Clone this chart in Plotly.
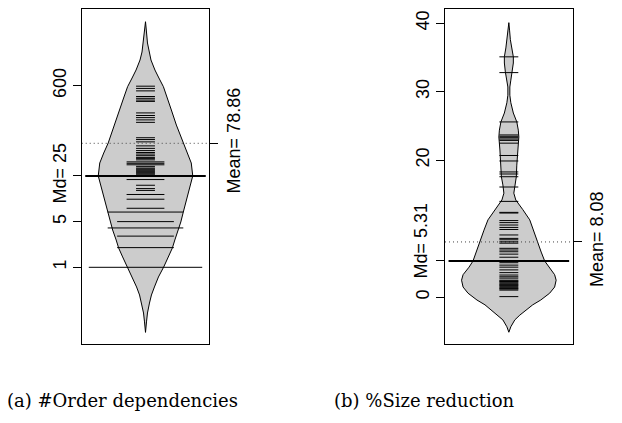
import plotly.graph_objects as go

# ---------------- (a) #Order dependencies (log y) ----------------
order_vals = [590, 545, 500, 410, 385, 362, 345, 230, 210, 195, 180, 165,
              96, 90, 83, 72, 66, 61, 57, 54, 51, 48, 46, 44, 41, 39, 37, 35,
              33, 32, 31, 30, 29, 28, 27, 26,
              22, 18, 16, 15, 13, 11, 8, 7, 5, 4, 3, 2, 1]
order_counts = [1, 1, 1, 1, 1, 1, 1, 1, 1, 1, 1, 1,
                1, 1, 1, 1, 1, 1, 1, 1, 1, 1, 1, 1, 2, 2, 2, 1,
                1, 1, 1, 1, 1, 1, 1, 1,
                2, 1, 1, 1, 2, 2, 2, 4, 3, 4, 3, 3, 6]
order_median = 25
order_mean = 78.86
order_ticks = [1, 5, 25, 600]
order_ticktext = ["1", "5", "Md= 25", "600"]
# bean outline: value -> relative density width
order_bean_y = [5715, 4266, 2700, 1966, 1483, 1042, 787, 579, 389, 255, 150,
                79.8, 56, 39.4, 25, 16.9, 10.7, 7.0, 4.93, 3.72, 2.62, 1.97,
                1.44, 1.01, 0.711, 0.5, 0.377, 0.284, 0.2, 0.146, 0.101]
order_bean_w = [0.0, 0.017, 0.042, 0.074, 0.116, 0.2, 0.284, 0.379, 0.463, 0.547, 0.653,
                0.789, 0.884, 0.968, 1.0, 0.937, 0.863, 0.8, 0.747, 0.695, 0.621, 0.568,
                0.484, 0.385, 0.274, 0.189, 0.126, 0.084, 0.042, 0.021, 0.0]

# ---------------- (b) %Size reduction (linear y) ----------------
size_vals = [35.1, 32.8, 25.6, 23.7, 23.5, 23.3, 23.1, 22.9, 22.5, 20.7, 19.9,
             18.3, 18.0, 17.6, 16.1, 14.0, 12.4, 12.3, 11.2, 10.9, 10.55, 10.2,
             9.9, 9.1, 8.6, 8.4, 8.1, 7.9, 7.15, 6.9, 6.65, 6.3, 5.85, 5.05,
             4.7, 4.4, 4.0, 3.6, 3.25, 3.0, 2.8, 2.5, 2.4, 2.3, 2.2, 2.05, 1.9,
             1.8, 1.7, 1.55, 1.4, 1.3, 1.2, 1.05, 0.1]
size_median = 5.31
size_mean = 8.08
size_ticks = [0, 20, 30, 40]
size_ticktext = ["0", "20", "30", "40"]
size_median_label = "Md= 5.31"
size_median_label_at = 8.3
size_bean_y = [40.09, 39.0, 37.6, 36.4, 35.1, 34.2, 32.9, 31.7, 30.7, 29.5, 28.4,
               26.9, 25.6, 24.4, 23.4, 21.5, 19.3, 17.6, 16.4, 15.2, 14.2, 12.8,
               11.3, 9.8, 8.1, 6.6, 5.3, 4.4, 3.3, 2.5, 1.5, 0.6, -0.4, -1.1,
               -1.9, -2.6, -3.3, -4.3, -5.1]
size_bean_w = [0.0, 0.015, 0.032, 0.063, 0.095, 0.095, 0.074, 0.042, 0.021, 0.021, 0.042,
               0.095, 0.168, 0.2, 0.211, 0.189, 0.168, 0.158, 0.126, 0.105, 0.147, 0.295,
               0.442, 0.526, 0.611, 0.684, 0.758, 0.842, 0.968, 1.0, 0.968, 0.863, 0.674, 0.505,
               0.358, 0.232, 0.126, 0.042, 0.0]

caption_a = "(a) #Order dependencies"
caption_b = "(b) %Size reduction"

XR = [0.46, 1.54]
CENTER = 1.0
MAXW = 0.4
LL = 0.08
AVG_HALF = 0.51

# page offset (browser body margin) compensation
OFF = 8
W, H = 622 - OFF, 423 - OFF


def px(xp):
    return (xp - OFF) / W


def py(yp):
    return (423 - yp) / H


fig = go.Figure()


def add_bean(xa, ya, bean_y, bean_w, vals, counts, median, mean):
    xs = [CENTER - MAXW * w for w in bean_w] + [CENTER + MAXW * w for w in reversed(bean_w)]
    ys = list(bean_y) + list(reversed(bean_y))
    fig.add_trace(go.Scatter(x=xs, y=ys, xaxis=xa, yaxis=ya, mode="lines",
                             fill="toself", fillcolor="#cccccc",
                             line=dict(color="black", width=1),
                             hoverinfo="skip", showlegend=False))
    fig.add_trace(go.Scatter(x=[XR[0], XR[1]], y=[mean, mean], xaxis=xa, yaxis=ya,
                             mode="lines", line=dict(color="#444444", width=1, dash="1px,3px"),
                             hoverinfo="skip", showlegend=False))
    lx, ly = [], []
    for v, c in zip(vals, counts):
        lx += [CENTER - LL * c, CENTER + LL * c, None]
        ly += [v, v, None]
    fig.add_trace(go.Scatter(x=lx, y=ly, xaxis=xa, yaxis=ya, mode="lines",
                             line=dict(color="black", width=1),
                             hoverinfo="skip", showlegend=False))
    fig.add_trace(go.Scatter(x=[CENTER - AVG_HALF, CENTER + AVG_HALF], y=[median, median],
                             xaxis=xa, yaxis=ya, mode="lines",
                             line=dict(color="black", width=2),
                             hoverinfo="skip", showlegend=False))


add_bean("x", "y", order_bean_y, order_bean_w, order_vals, order_counts, order_median, order_mean)
add_bean("x2", "y2", size_bean_y, size_bean_w, size_vals, [1] * len(size_vals), size_median, size_mean)

# invisible traces so the right-hand (mean) axes exist
fig.add_trace(go.Scatter(x=[CENTER], y=[order_mean], xaxis="x", yaxis="y3", mode="markers",
                         marker=dict(opacity=0), hoverinfo="skip", showlegend=False))
fig.add_trace(go.Scatter(x=[CENTER], y=[size_mean], xaxis="x2", yaxis="y4", mode="markers",
                         marker=dict(opacity=0), hoverinfo="skip", showlegend=False))

font_r = dict(family="Liberation Sans, Arial, sans-serif", size=18, color="black")
font_cap = dict(family="DejaVu Serif, serif", size=18, color="black")

xcommon = dict(range=XR, showticklabels=False, ticks="", showgrid=False, zeroline=False,
               showline=True, mirror=True, linecolor="black", linewidth=1, fixedrange=True)
ycommon = dict(tickangle=-90, ticks="outside", ticklen=8, tickwidth=1, tickcolor="black",
               showgrid=False, zeroline=False, tickfont=font_r, fixedrange=True)

YD = [py(344.3), py(9.3)]
LOGR = [-1.178, 3.947]
LINR = [-6.86, 42.04]

fig.update_layout(
    width=W, height=H,
    margin=dict(l=0, r=0, t=0, b=0, autoexpand=False),
    paper_bgcolor="white", plot_bgcolor="white",
    showlegend=False,
    xaxis=dict(domain=[px(81.7), px(209.3)], anchor="y", **xcommon),
    xaxis2=dict(domain=[px(445), px(572.7)], anchor="y2", **xcommon),
    yaxis=dict(domain=YD, anchor="x", type="log", range=LOGR,
               tickvals=order_ticks, ticktext=order_ticktext,
               showline=True, mirror=True, linecolor="black", linewidth=1, **ycommon),
    yaxis3=dict(overlaying="y", anchor="x", side="right", type="log", range=LOGR,
                tickvals=[order_mean], ticktext=["Mean= %.2f" % order_mean],
                showline=False, **ycommon),
    yaxis2=dict(domain=YD, anchor="x2", range=LINR,
                tickvals=size_ticks + [size_median], ticktext=size_ticktext + [""],
                showline=True, mirror=True, linecolor="black", linewidth=1, **ycommon),
    yaxis4=dict(overlaying="y2", anchor="x2", side="right", range=LINR,
                tickvals=[size_mean], ticktext=["Mean= %.2f" % size_mean],
                showline=False, **ycommon),
    annotations=[
        dict(text=size_median_label, xref="paper", yref="y2", x=px(421), y=size_median_label_at,
             xanchor="center", yanchor="middle", textangle=-90, showarrow=False, font=font_r),
        dict(text=caption_a, xref="paper", yref="paper", x=px(5), y=py(400),
             xanchor="left", yanchor="middle", showarrow=False, font=font_cap),
        dict(text=caption_b, xref="paper", yref="paper", x=px(332), y=py(400),
             xanchor="left", yanchor="middle", showarrow=False, font=font_cap),
    ],
)

fig.write_html("out.html")
